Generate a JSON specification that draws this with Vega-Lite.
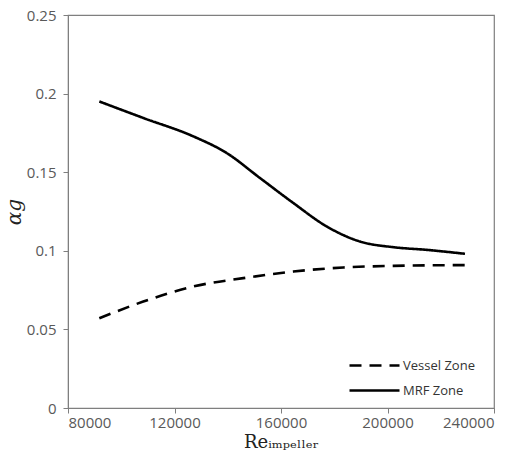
{
  "$schema": "https://vega.github.io/schema/vega-lite/v6.json",
  "width": 426,
  "height": 393,
  "autosize": "none",
  "padding": {"left": 68, "top": 15, "right": 27, "bottom": 61},
  "background": "white",
  "config": {
    "view": {"stroke": "#7f7f7f", "strokeWidth": 1.2},
    "axis": {
      "grid": false,
      "domainColor": "#7f7f7f",
      "tickColor": "#7f7f7f",
      "labelColor": "#595959",
      "labelFont": "Open Sans",
      "labelFontSize": 15,
      "titleColor": "#222222",
      "titleFontWeight": "normal"
    }
  },
  "data": {
    "values": [
      {"re": 91760, "ag": 0.195, "zone": "MRF Zone"},
      {"re": 108280, "ag": 0.1845, "zone": "MRF Zone"},
      {"re": 127060, "ag": 0.1728, "zone": "MRF Zone"},
      {"re": 139600, "ag": 0.1622, "zone": "MRF Zone"},
      {"re": 152100, "ag": 0.1463, "zone": "MRF Zone"},
      {"re": 164630, "ag": 0.1304, "zone": "MRF Zone"},
      {"re": 177160, "ag": 0.1155, "zone": "MRF Zone"},
      {"re": 189680, "ag": 0.1059, "zone": "MRF Zone"},
      {"re": 202180, "ag": 0.1023, "zone": "MRF Zone"},
      {"re": 214700, "ag": 0.1006, "zone": "MRF Zone"},
      {"re": 229100, "ag": 0.0981, "zone": "MRF Zone"},
      {"re": 91760, "ag": 0.0571, "zone": "Vessel Zone"},
      {"re": 108280, "ag": 0.0677, "zone": "Vessel Zone"},
      {"re": 127060, "ag": 0.0773, "zone": "Vessel Zone"},
      {"re": 145840, "ag": 0.0826, "zone": "Vessel Zone"},
      {"re": 164630, "ag": 0.0868, "zone": "Vessel Zone"},
      {"re": 183400, "ag": 0.0894, "zone": "Vessel Zone"},
      {"re": 202180, "ag": 0.0904, "zone": "Vessel Zone"},
      {"re": 229100, "ag": 0.0909, "zone": "Vessel Zone"}
    ]
  },
  "mark": {"type": "line", "interpolate": "monotone", "color": "black", "strokeWidth": 2.6},
  "encoding": {
    "x": {
      "field": "re",
      "type": "quantitative",
      "scale": {"domain": [80000, 240000], "nice": false},
      "axis": {
        "values": [80000, 120000, 160000, 200000, 240000],
        "format": "d",
        "title": "Reᵢₘₚₑₗₗₑᵣ",
        "titleFont": "DejaVu Serif",
        "titleFontSize": 18,
        "titlePadding": 3,
        "tickSize": 5,
        "labelPadding": 2
      }
    },
    "y": {
      "field": "ag",
      "type": "quantitative",
      "scale": {"domain": [0, 0.25], "nice": false},
      "axis": {
        "values": [0, 0.05, 0.1, 0.15, 0.2, 0.25],
        "format": "~g",
        "title": "αg",
        "titleFont": "DejaVu Serif",
        "titleFontStyle": "italic",
        "titleFontSize": 20,
        "titlePadding": 2,
        "tickSize": 5,
        "labelPadding": 7
      }
    },
    "strokeDash": {
      "field": "zone",
      "type": "nominal",
      "sort": ["Vessel Zone", "MRF Zone"],
      "scale": {"domain": ["Vessel Zone", "MRF Zone"], "range": [[12, 8], [1, 0]]},
      "legend": {
        "title": null,
        "orient": "none",
        "legendX": 300,
        "legendY": 344,
        "symbolType": "M-5,0H5",
        "symbolSize": 100,
        "symbolStrokeColor": "black",
        "symbolStrokeWidth": 2.6,
        "labelFont": "Open Sans",
        "labelFontSize": 13,
        "labelColor": "#333333",
        "labelOffset": 22,
        "rowPadding": 11
      }
    }
  }
}
